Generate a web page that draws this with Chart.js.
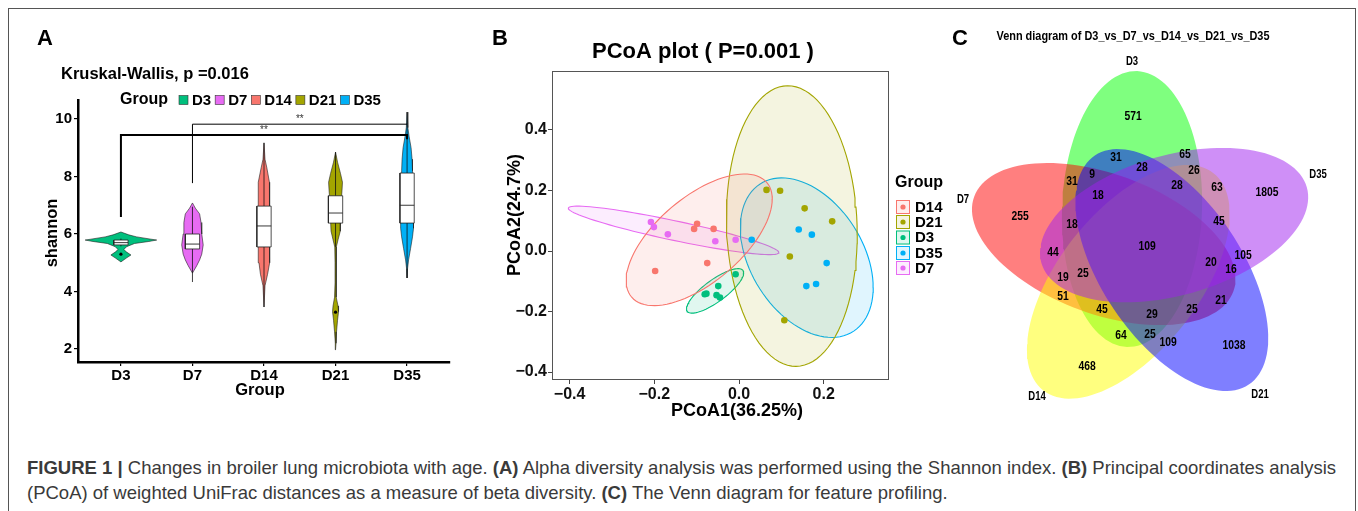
<!DOCTYPE html>
<html>
<head>
<meta charset="utf-8">
<script src="https://cdn.jsdelivr.net/npm/chart.js@4.4.1/dist/chart.umd.min.js"></script>
<style>
  html, body { margin: 0; padding: 0; background: #fff; }
  body { width: 1358px; height: 511px; position: relative; overflow: hidden; font-family: "Liberation Sans", Arial, sans-serif; }
  #moldura { position: absolute; left: 8px; top: 8px; width: 1348px; height: 560px; border: 1.5px solid #555; box-sizing: border-box; }
  canvas { position: absolute; }
  .letra { position: absolute; font-weight: bold; font-size: 22px; line-height: 22px; color: #000; }
  #legenda { position: absolute; left: 27px; top: 455px; color: #3a3a3a; font-size: 16px; line-height: 25px; white-space: nowrap; }
</style>
</head>
<body>
<div id="moldura"></div>
<canvas id="chartA" width="460" height="420" style="left:0;top:0"></canvas>
<canvas id="chartB" width="490" height="430" style="left:460px;top:0"></canvas>
<canvas id="chartC" width="428" height="420" style="left:930px;top:0"></canvas>
<div class="letra" style="left:37px;top:27px">A</div>
<div class="letra" style="left:492px;top:27px">B</div>
<div class="letra" style="left:952px;top:27px">C</div>
<div id="legenda">
  <div id="leg1"><b>FIGURE 1 |</b> Changes in broiler lung microbiota with age. <b>(A)</b> Alpha diversity analysis was performed using the Shannon index. <b>(B)</b> Principal coordinates analysis</div>
  <div id="leg2">(PCoA) of weighted UniFrac distances as a measure of beta diversity. <b>(C)</b> The Venn diagram for feature profiling.</div>
</div>
<script>
// ===== DADOS: PAINEL A (violino shannon) =====
const grupos = ['D3', 'D7', 'D14', 'D21', 'D35'];
const coresA = ['#00BF7D', '#E76BF3', '#F8766D', '#A3A500', '#00B0F6'];
const yTicksA = [2, 4, 6, 8, 10];
const tituloA = 'Kruskal-Wallis, p =0.016';

// perfil dos violinos: valor de shannon e meia-largura (unidades de categoria)
const violD3_y  = [6.07, 5.97, 5.90, 5.82, 5.79, 5.74, 5.67, 5.56, 5.46, 5.37, 5.27, 5.17, 5.03];
const violD3_w  = [0, 0.11, 0.22, 0.42, 0.50, 0.39, 0.19, 0.08, 0.04, 0.08, 0.14, 0.08, 0];
const violD7_y  = [7.08, 6.9, 6.7, 6.4, 6.0, 5.62, 5.3, 5.1, 4.9, 4.64];
const violD7_w  = [0, 0.04, 0.10, 0.12, 0.13, 0.15, 0.13, 0.10, 0.06, 0];
const violD14_y = [9.17, 8.6, 8.3, 7.8, 7.3, 6.9, 6.0, 5.5, 5.0, 4.6, 4.2, 3.46];
const violD14_w = [0, 0.014, 0.04, 0.076, 0.083, 0.083, 0.083, 0.076, 0.07, 0.05, 0.014, 0];
const violD21_y = [8.85, 8.5, 8.1, 7.8, 7.5, 7.0, 6.5, 6.1, 5.8, 5.55, 5.0, 4.3, 3.8, 3.5, 3.3, 3.0, 2.6, 2.2, 1.97];
const violD21_w = [0, 0.028, 0.07, 0.097, 0.09, 0.076, 0.07, 0.063, 0.035, 0.011, 0.007, 0.007, 0.014, 0.035, 0.042, 0.028, 0.014, 0.007, 0];
const violD35_y = [10.24, 9.7, 9.4, 9.0, 8.6, 8.2, 7.5, 6.8, 6.2, 5.9, 5.5, 5.1, 4.8, 4.47];
const violD35_w = [0, 0.011, 0.028, 0.056, 0.07, 0.076, 0.083, 0.09, 0.09, 0.076, 0.049, 0.021, 0.007, 0];
const violY = [violD3_y, violD7_y, violD14_y, violD21_y, violD35_y];
const violW = [violD3_w, violD7_w, violD14_w, violD21_w, violD35_w];

// boxplot
const boxQ1   = [5.62, 5.48, 5.55, 6.38, 6.38];
const boxMed  = [5.70, 5.65, 6.28, 6.73, 7.00];
const boxQ3   = [5.79, 6.00, 6.97, 7.33, 8.12];
const bigLo   = [5.57, 4.33, 3.46, 5.55, 4.47];
const bigHi   = [5.84, 6.95, 9.17, 8.85, 10.24];
const outlierGrupo = ['D3', 'D21'];
const outlierValor = [5.30, 3.28];

// comparações (wilcoxon)
const comparacoes   = [['D3', 'D35'], ['D7', 'D35']];
const compAltura    = [9.44, 9.82];
const compPernaEsq  = [6.59, 7.77];
const compPernaDir  = [9.30, 9.82];
const compRotulo    = ['**', '**'];

// ===== DADOS: PAINEL B (PCoA) =====
const gruposB = ['D14', 'D21', 'D3', 'D35', 'D7'];
const coresB  = ['#F8766D', '#A3A500', '#00BF7D', '#00B0F6', '#E76BF3'];
const xTicksB = [-0.4, -0.2, 0.0, 0.2];
const yTicksB = [-0.4, -0.2, 0.0, 0.2, 0.4];
const pc1_D14 = [-0.099, -0.106, -0.060, -0.075, -0.198];
const pc2_D14 = [0.090, 0.073, 0.073, -0.040, -0.066];
const pc1_D21 = [0.065, 0.097, 0.155, 0.220, 0.120, 0.107];
const pc2_D21 = [0.202, 0.199, 0.141, 0.098, -0.018, -0.229];
const pc1_D3  = [-0.008, -0.049, -0.077, -0.081, -0.053, -0.045];
const pc2_D3  = [-0.077, -0.116, -0.141, -0.143, -0.146, -0.154];
const pc1_D35 = [0.030, 0.141, 0.172, 0.207, 0.182, 0.159];
const pc2_D35 = [0.037, 0.071, 0.054, -0.040, -0.109, -0.116];
const pc1_D7  = [-0.208, -0.201, -0.168, -0.056, -0.008];
const pc2_D7  = [0.096, 0.079, 0.055, 0.032, 0.037];
const pc1 = [pc1_D14, pc1_D21, pc1_D3, pc1_D35, pc1_D7];
const pc2 = [pc2_D14, pc2_D21, pc2_D3, pc2_D35, pc2_D7];
// elipses de confiança: centro e semi-eixos conjugados
const elipCentro = [[-0.094, 0.037], [0.1247, 0.0824], [-0.0565, -0.1319], [0.160, -0.022], [-0.1545, 0.0681]];
const elipEixoA  = [[0.1725, 0.1348], [0.1545, -0.0282], [0.0675, 0.0593], [0.1569, -0.0989], [0.2486, -0.0731]];
const elipEixoB  = [[0, -0.1708], [0, 0.4629], [0, -0.0436], [0, 0.2445], [0, 0.033]];

// ===== DADOS: PAINEL C (Venn) =====
const vennConjuntos = ['D3', 'D7', 'D14', 'D21', 'D35'];
const vennCores     = ['rgba(0,255,0,0.5)', 'rgba(255,0,0,0.5)', 'rgba(255,255,0,0.5)', 'rgba(0,0,255,0.5)', 'rgba(160,32,240,0.5)'];
const vennContagens = [571, 31, 65, 28, 26, 9, 31, 28, 63, 1805, 18, 255, 18, 45, 109, 44, 105, 20, 16, 19, 25, 51, 21, 45, 25, 29, 64, 25, 109, 1038, 468];

// ===== LAYOUT (pixels do canvas) =====
const FONTE = '"Liberation Sans", Arial, Helvetica, sans-serif';
const vennPosRotulo = [[203,116],[186,157],[255,154],[212,167],[264,170],[162,174],[142,181],[247,185],[287,187],[337,192],
  [168,195],[90,216],[142,224],[289,221],[217,246],[123,252],[313,255],[281,262],[301,269],[133,277],[153,273],
  [133,296],[291,300],[172,309],[262,309],[222,314],[191,335],[220,334],[238,342],[304,345],[157,366]];
const vennPosConj = [[202,62],[33,200],[107,397],[330,395],[388,175]];
const vennGeo = { ox: 212, oy: 246, r: 38.3, angCentro: -105.1, angEixo: -87.9, semiA: 138, semiB: 70 };
const vennPasso = [0, 4, 3, 2, 1]; // rotação de 72° de cada conjunto

Chart.defaults.font.family = FONTE;

function texto(ctx, str, x, y, font, align, color, rot) {
  ctx.save();
  ctx.font = font;
  ctx.fillStyle = color || '#000';
  ctx.textAlign = align || 'left';
  ctx.textBaseline = 'middle';
  ctx.translate(x, y);
  if (rot) ctx.rotate(rot);
  ctx.fillText(str, 0, 0);
  ctx.restore();
}

function textoEstreito(ctx, str, x, y, font, sx) {
  ctx.save();
  ctx.font = font;
  ctx.fillStyle = '#000';
  ctx.textAlign = 'center';
  ctx.textBaseline = 'middle';
  ctx.translate(x, y);
  ctx.scale(sx, 1);
  ctx.fillText(str, 0, 0);
  ctx.restore();
}

// ===== PAINEL A =====
function poligonoViolino(i) {
  const cx = i + 1;
  const dir = violY[i].map((v, k) => ({ x: cx + violW[i][k], y: v }));
  const esq = violY[i].map((v, k) => ({ x: cx - violW[i][k], y: v })).reverse();
  const pts = dir.concat(esq);
  pts.push(pts[0]);
  return pts;
}

const dsA = [];
const meiaCaixa = 0.1;
grupos.forEach((g, i) => {
  const cx = i + 1;
  dsA.push({ data: poligonoViolino(i), backgroundColor: coresA[i], borderColor: 'rgba(30,30,30,0.85)', borderWidth: 0.7, fill: 'shape', order: 40 });
  dsA.push({ data: [{ x: cx, y: bigLo[i] }, { x: cx, y: bigHi[i] }], borderColor: '#111', borderWidth: 0.8, fill: false, order: 30 });
  dsA.push({
    data: [{ x: cx - meiaCaixa, y: boxQ1[i] }, { x: cx + meiaCaixa, y: boxQ1[i] }, { x: cx + meiaCaixa, y: boxQ3[i] }, { x: cx - meiaCaixa, y: boxQ3[i] }, { x: cx - meiaCaixa, y: boxQ1[i] }],
    backgroundColor: '#fff', borderColor: '#222', borderWidth: 0.8, fill: 'shape', order: 20
  });
  dsA.push({ data: [{ x: cx - meiaCaixa, y: boxMed[i] }, { x: cx + meiaCaixa, y: boxMed[i] }], borderColor: '#222', borderWidth: 0.9, fill: false, order: 10 });
});
dsA.push({
  data: outlierGrupo.map((g, k) => ({ x: grupos.indexOf(g) + 1, y: outlierValor[k] })),
  showLine: false, pointRadius: 1.6, pointBackgroundColor: '#000', pointBorderWidth: 0, order: 5
});
comparacoes.forEach((c, k) => {
  const a = grupos.indexOf(c[0]) + 1, b = grupos.indexOf(c[1]) + 1;
  dsA.push({
    data: [{ x: a, y: compPernaEsq[k] }, { x: a, y: compAltura[k] }, { x: b, y: compAltura[k] }, { x: b, y: compPernaDir[k] }],
    borderColor: '#000', borderWidth: k === 0 ? 2 : 1, fill: false, order: 1
  });
});

const pluginA = {
  id: 'extrasA',
  afterDraw(chart) {
    const ctx = chart.ctx, sx = chart.scales.x, sy = chart.scales.y;
    texto(ctx, tituloA, 61, 74, 'bold 16.5px ' + FONTE, 'left');
    texto(ctx, 'Group', 120, 100, 'bold 16px ' + FONTE, 'left');
    let px = 179;
    grupos.forEach((g, i) => {
      ctx.save();
      ctx.fillStyle = coresA[i];
      ctx.fillRect(px, 95.5, 9, 9);
      ctx.strokeStyle = '#333';
      ctx.lineWidth = 0.6;
      ctx.strokeRect(px, 95.5, 9, 9);
      ctx.font = 'bold 15px ' + FONTE;
      const w = ctx.measureText(g).width;
      ctx.restore();
      texto(ctx, g, px + 13, 100.5, 'bold 15px ' + FONTE, 'left');
      px += 13 + w + 4;
    });
    comparacoes.forEach((c, k) => {
      const xm = (sx.getPixelForValue(grupos.indexOf(c[0]) + 1) + sx.getPixelForValue(grupos.indexOf(c[1]) + 1)) / 2;
      texto(ctx, compRotulo[k], xm, sy.getPixelForValue(compAltura[k]) - 5, '10px ' + FONTE, 'center', '#333');
    });
    texto(ctx, 'Group', 260, 390, 'bold 16.5px ' + FONTE, 'center');
    texto(ctx, 'shannon', 52, 233, 'bold 16.5px ' + FONTE, 'center', '#000', -Math.PI / 2);
  }
};

new Chart(document.getElementById('chartA'), {
  type: 'line',
  data: { datasets: dsA },
  options: {
    responsive: false,
    animation: false,
    layout: { padding: { left: 0, top: 100, right: 10, bottom: 0 } },
    elements: { point: { radius: 0 }, line: { tension: 0 } },
    plugins: { legend: { display: false }, tooltip: { enabled: false } },
    scales: {
      x: {
        type: 'linear', min: 0.4, max: 5.6,
        afterFit: s => { s.height = 58; },
        afterBuildTicks: s => { s.ticks = grupos.map((g, i) => ({ value: i + 1 })); },
        ticks: { callback: v => grupos[Math.round(v) - 1], color: '#000', font: { size: 15, weight: 'bold' }, padding: 1, maxRotation: 0, autoSkip: false },
        grid: { display: true, drawOnChartArea: false, drawTicks: true, tickLength: 4, color: '#000', lineWidth: 1.2 },
        border: { display: true, color: '#000', width: 2.5 }
      },
      y: {
        type: 'linear', min: 1.548, max: 10.661,
        afterFit: s => { s.width = 78; },
        afterBuildTicks: s => { s.ticks = yTicksA.map(v => ({ value: v })); },
        ticks: { color: '#000', font: { size: 15, weight: 'bold' }, padding: 2 },
        grid: { display: true, drawOnChartArea: false, drawTicks: true, tickLength: 4, color: '#000', lineWidth: 1.2 },
        border: { display: true, color: '#000', width: 2.5 }
      }
    }
  },
  plugins: [pluginA]
});

// ===== PAINEL B =====
function pontosElipse(k) {
  const pts = [];
  const [cx, cy] = elipCentro[k], [ax, ay] = elipEixoA[k], [bx, by] = elipEixoB[k];
  for (let j = 0; j <= 96; j++) {
    const t = 2 * Math.PI * j / 96;
    pts.push({ x: cx + ax * Math.cos(t) + bx * Math.sin(t), y: cy + ay * Math.cos(t) + by * Math.sin(t) });
  }
  return pts;
}

function comAlfa(hex, a) {
  const n = parseInt(hex.slice(1), 16);
  return `rgba(${n >> 16},${(n >> 8) & 255},${n & 255},${a})`;
}

const dsB = [];
gruposB.forEach((g, k) => {
  dsB.push({ data: pontosElipse(k), backgroundColor: comAlfa(coresB[k], 0.12), borderColor: coresB[k], borderWidth: 1.1, fill: 'shape', order: 20 });
});
gruposB.forEach((g, k) => {
  dsB.push({
    data: pc1[k].map((v, j) => ({ x: v, y: pc2[k][j] })),
    showLine: false, pointRadius: 3.3, pointBackgroundColor: coresB[k], pointBorderWidth: 0, order: 1
  });
});

const fmtB = v => (Math.abs(v) < 1e-9 ? '0.0' : v.toFixed(1).replace('-', '\u2212'));

const pluginB = {
  id: 'extrasB',
  afterDraw(chart) {
    const ctx = chart.ctx, a = chart.chartArea;
    ctx.save();
    ctx.strokeStyle = '#555';
    ctx.lineWidth = 1;
    ctx.strokeRect(a.left + 0.5, a.top + 0.5, a.right - a.left - 1, a.bottom - a.top - 1);
    ctx.restore();
    texto(ctx, 'PCoA plot ( P=0.001 )', 243, 52, 'bold 22px ' + FONTE, 'center');
    texto(ctx, 'PCoA1(36.25%)', 277, 411, 'bold 18px ' + FONTE, 'center');
    texto(ctx, 'PCoA2(24.7%)', 55, 215, 'bold 18px ' + FONTE, 'center', '#000', -Math.PI / 2);
    texto(ctx, 'Group', 435, 183, 'bold 16px ' + FONTE, 'left');
    const linhas = [207, 222, 237.5, 253, 268];
    gruposB.forEach((g, k) => {
      const yy = linhas[k];
      ctx.save();
      ctx.fillStyle = comAlfa(coresB[k], 0.12);
      ctx.fillRect(436, yy - 7, 14, 14);
      ctx.strokeStyle = coresB[k];
      ctx.lineWidth = 1;
      ctx.strokeRect(436.5, yy - 6.5, 13, 13);
      ctx.fillStyle = coresB[k];
      ctx.beginPath();
      ctx.arc(443, yy, 2.6, 0, 2 * Math.PI);
      ctx.fill();
      ctx.restore();
      texto(ctx, g, 455, yy + 0.5, 'bold 15px ' + FONTE, 'left');
    });
  }
};

new Chart(document.getElementById('chartB'), {
  type: 'line',
  data: { datasets: dsB },
  options: {
    responsive: false,
    animation: false,
    layout: { padding: { left: 0, top: 71, right: 61, bottom: 0 } },
    elements: { point: { radius: 0 }, line: { tension: 0 } },
    plugins: { legend: { display: false }, tooltip: { enabled: false } },
    scales: {
      x: {
        type: 'linear', min: -0.4416, max: 0.3542,
        afterFit: s => { s.height = 50; },
        afterBuildTicks: s => { s.ticks = xTicksB.map(v => ({ value: v })); },
        ticks: { callback: fmtB, color: '#111', font: { size: 16, weight: 'bold' }, padding: 1, maxRotation: 0, autoSkip: false },
        grid: { display: true, drawOnChartArea: false, drawTicks: true, tickLength: 4, color: '#444', lineWidth: 1 },
        border: { display: false }
      },
      y: {
        type: 'linear', min: -0.4264, max: 0.595,
        afterFit: s => { s.width = 92; },
        afterBuildTicks: s => { s.ticks = yTicksB.map(v => ({ value: v })); },
        ticks: { callback: fmtB, color: '#111', font: { size: 16, weight: 'bold' }, padding: 1 },
        grid: { display: true, drawOnChartArea: false, drawTicks: true, tickLength: 4, color: '#444', lineWidth: 1 },
        border: { display: false }
      }
    }
  },
  plugins: [pluginB]
});

// ===== PAINEL C =====
function pontosVenn(i) {
  const g = vennGeo, s = vennPasso[i] * 72;
  const ac = (g.angCentro + s) * Math.PI / 180, ae = (g.angEixo + s) * Math.PI / 180;
  const cx = g.ox + g.r * Math.cos(ac), cy = g.oy + g.r * Math.sin(ac);
  const ux = Math.cos(ae), uy = Math.sin(ae);
  const pts = [];
  for (let j = 0; j <= 120; j++) {
    const t = 2 * Math.PI * j / 120;
    const p = g.semiA * Math.cos(t), q = g.semiB * Math.sin(t);
    pts.push({ x: cx + p * ux - q * uy, y: cy + p * uy + q * ux });
  }
  return pts;
}

const dsC = vennConjuntos.map((c, i) => ({
  data: pontosVenn(i), backgroundColor: vennCores[i], borderWidth: 0, borderColor: 'rgba(0,0,0,0)', fill: 'shape', order: 10 - i
}));

const pluginC = {
  id: 'extrasC',
  afterDraw(chart) {
    const ctx = chart.ctx;
    ctx.save();
    ctx.font = 'bold 13px ' + FONTE;
    const sxNum = 23 / ctx.measureText('1805').width;
    ctx.font = 'bold 12.5px ' + FONTE;
    const tit = 'Venn diagram of ' + vennConjuntos.join('_vs_');
    const sxTit = 273 / ctx.measureText(tit).width;
    ctx.restore();
    textoEstreito(ctx, tit, 203, 37, 'bold 12.5px ' + FONTE, sxTit);
    vennContagens.forEach((n, k) => {
      textoEstreito(ctx, String(n), vennPosRotulo[k][0], vennPosRotulo[k][1], 'bold 13px ' + FONTE, sxNum);
    });
    vennConjuntos.forEach((c, i) => {
      textoEstreito(ctx, c, vennPosConj[i][0], vennPosConj[i][1], 'bold 12px ' + FONTE, sxNum);
    });
  }
};

new Chart(document.getElementById('chartC'), {
  type: 'line',
  data: { datasets: dsC },
  options: {
    responsive: false,
    animation: false,
    layout: { padding: 0 },
    elements: { point: { radius: 0 }, line: { tension: 0 } },
    plugins: { legend: { display: false }, tooltip: { enabled: false } },
    scales: {
      x: { type: 'linear', min: 0, max: 428, display: false },
      y: { type: 'linear', min: 0, max: 420, reverse: true, display: false }
    }
  },
  plugins: [pluginC]
});

// ajusta a legenda da figura à largura original
(function () {
  const l1 = document.getElementById('leg1');
  const alvo = 1310;
  l1.style.display = 'inline-block';
  const w = l1.getBoundingClientRect().width;
  l1.style.display = 'block';
  const tam = 16 * alvo / w;
  document.getElementById('legenda').style.fontSize = tam.toFixed(2) + 'px';
})();
</script>
</body>
</html>
